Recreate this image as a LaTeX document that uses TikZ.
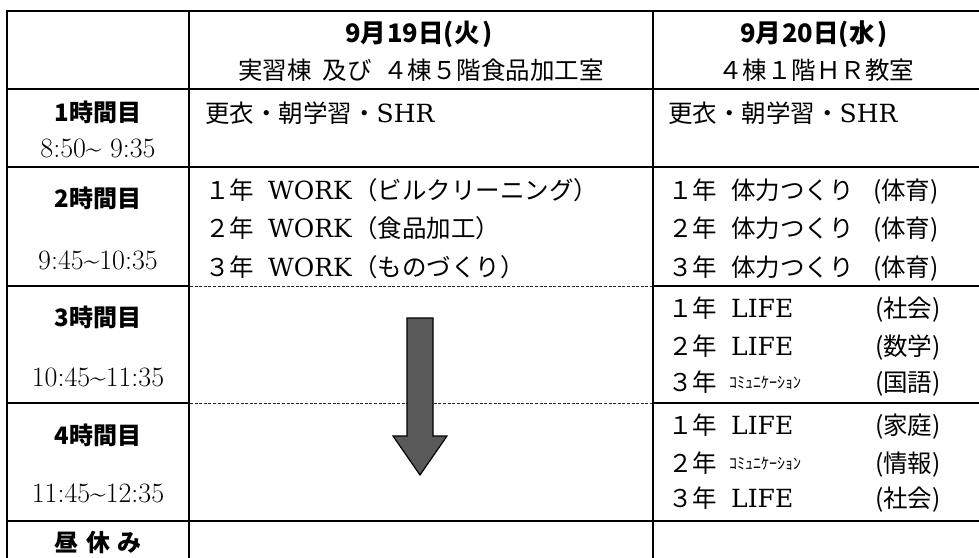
\documentclass[tikz,border=0pt]{standalone}
\usepackage{fontspec}
\usepackage{graphicx}
\newfontfamily\jp{Noto Sans CJK JP}
\newfontfamily\latinw{DejaVu Serif}
\tikzset{
  gridline/.style={line width=2.5pt, line cap=rect},
  dline/.style={line width=0.8pt, dash pattern=on 3pt off 1.6pt, black!85},
  txt/.style={inner sep=0pt, anchor=base west},
  ctxt/.style={inner sep=0pt, anchor=base},
  jpbody/.style={font=\jp\fontsize{24.5}{26}\selectfont},
  jphead/.style={font=\jp\bfseries\fontsize{24}{26}\selectfont},
  datehead/.style={font=\jp\bfseries\fontsize{25.5}{27}\selectfont},
  latin/.style={font=\latinw\fontsize{25}{27}\selectfont},
  timef/.style={font=\fontsize{28}{29}\selectfont},
  smallkana/.style={font=\jp\fontsize{16}{16}\selectfont},
  bigarrow/.style={fill=black!65, draw=black, line width=1.2pt, line join=miter},
}
\begin{document}
\begin{tikzpicture}[x=1pt,y=-1pt]
\useasboundingbox (0,0) rectangle (979,557);
% ---- grid
\draw[gridline] (7,11) -- (979,11);
\draw[gridline] (7,89) -- (979,89);
\draw[gridline] (7,167) -- (979,167);
\draw[gridline] (7,286) -- (189,286);
\draw[gridline] (653,286) -- (979,286);
\draw[gridline] (7,403) -- (189,403);
\draw[gridline] (653,403) -- (979,403);
\draw[gridline] (7,521) -- (979,521);
\draw[gridline] (7,11) -- (7,557);
\draw[gridline] (189,11) -- (189,557);
\draw[gridline] (653,11) -- (653,557);
\draw[dline] (190,286) -- (652,286);
\draw[dline] (190,403) -- (652,403);
% ---- header
\node[ctxt, datehead] (d1) at (419,42) {9月\hspace{0.05em}19日(火\hspace{0.12em})};
\node[ctxt, datehead] (d2) at (814,42) {9月\hspace{0.05em}20日(水\hspace{0.12em})};
\node[ctxt, jpbody] (p1) at (421,79) {実習棟\hspace{0.45em}及び\hspace{0.45em}４棟５階食品加工室};
\node[ctxt, jpbody] (p2) at (816,79) {４棟１階ＨＲ教室};
% ---- left column
\node[ctxt, jphead] (h1) at (98,121) {1時間目};
\node[ctxt, timef] (t1) at (98,157) {8:50\textasciitilde\ 9:35};
\node[ctxt, jphead] (h2) at (98,207) {2時間目};
\node[ctxt, timef] (t2) at (98,269) {9:45\textasciitilde 10:35};
\node[ctxt, jphead] (h3) at (98,326) {3時間目};
\node[ctxt, timef] (t3) at (98,386) {10:45\textasciitilde 11:35};
\node[ctxt, jphead] (h4) at (98,444) {4時間目};
\node[ctxt, timef] (t4) at (98,502) {11:45\textasciitilde 12:35};
\node[ctxt, jphead] (h5) at (98,551) {昼\hspace{0.3em}休\hspace{0.3em}み};
% ---- row 1
\node[txt, jpbody] (m1) at (205,122) {更衣・朝学習・{\latinw\fontsize{25}{27}\selectfont SHR}};
\node[txt, jpbody] (r1) at (668,122) {更衣・朝学習・{\latinw\fontsize{25}{27}\selectfont SHR}};
% ---- row 2 middle
\node[txt, jpbody] (m2y1) at (205,199) {１年};
\node[txt, latin]  (m2w1) at (268,199) {WORK};
\node[txt, jpbody] (m2p1) at (353,199) {（ビルクリーニング）};
\node[txt, jpbody] (m2y2) at (205,237) {２年};
\node[txt, latin]  (m2w2) at (268,237) {WORK};
\node[txt, jpbody] (m2p2) at (353,237) {（食品加工）};
\node[txt, jpbody] (m2y3) at (205,276) {３年};
\node[txt, latin]  (m2w3) at (268,276) {WORK};
\node[txt, jpbody] (m2p3) at (353,276) {（ものづくり）};
% ---- row 2 right
\node[txt, jpbody] (r2y1) at (668,199) {１年};
\node[txt, jpbody] (r2i1) at (731,199) {体力つくり};
\node[txt, jpbody] (r2p1) at (873,199) {(体育)};
\node[txt, jpbody] (r2y2) at (668,237) {２年};
\node[txt, jpbody] (r2i2) at (731,237) {体力つくり};
\node[txt, jpbody] (r2p2) at (873,237) {(体育)};
\node[txt, jpbody] (r2y3) at (668,276) {３年};
\node[txt, jpbody] (r2i3) at (731,276) {体力つくり};
\node[txt, jpbody] (r2p3) at (873,276) {(体育)};
% ---- row 3 right
\node[txt, jpbody] (r3y1) at (668,317) {１年};
\node[txt, latin]  (r3i1) at (731,317) {LIFE};
\node[txt, jpbody] (r3p1) at (875,317) {(社会)};
\node[txt, jpbody] (r3y2) at (668,355) {２年};
\node[txt, latin]  (r3i2) at (731,355) {LIFE};
\node[txt, jpbody] (r3p2) at (875,355) {(数学)};
\node[txt, jpbody] (r3y3) at (668,391) {３年};
\node[txt, smallkana] (r3i3) at (729,388) {ｺﾐｭﾆｹｰｼｮﾝ};
\node[txt, jpbody] (r3p3) at (875,391) {(国語)};
% ---- row 4 right
\node[txt, jpbody] (r4y1) at (668,434) {１年};
\node[txt, latin]  (r4i1) at (731,434) {LIFE};
\node[txt, jpbody] (r4p1) at (875,434) {(家庭)};
\node[txt, jpbody] (r4y2) at (668,472) {２年};
\node[txt, smallkana] (r4i2) at (729,469) {ｺﾐｭﾆｹｰｼｮﾝ};
\node[txt, jpbody] (r4p2) at (875,472) {(情報)};
\node[txt, jpbody] (r4y3) at (668,507) {３年};
\node[txt, latin]  (r4i3) at (731,507) {LIFE};
\node[txt, jpbody] (r4p3) at (875,507) {(社会)};
% ---- arrow
\draw[bigarrow] (407,318) -- (433,318) -- (433,436) -- (447,436) -- (420,475) -- (393,436) -- (407,436) -- cycle;
\end{tikzpicture}
\end{document}
